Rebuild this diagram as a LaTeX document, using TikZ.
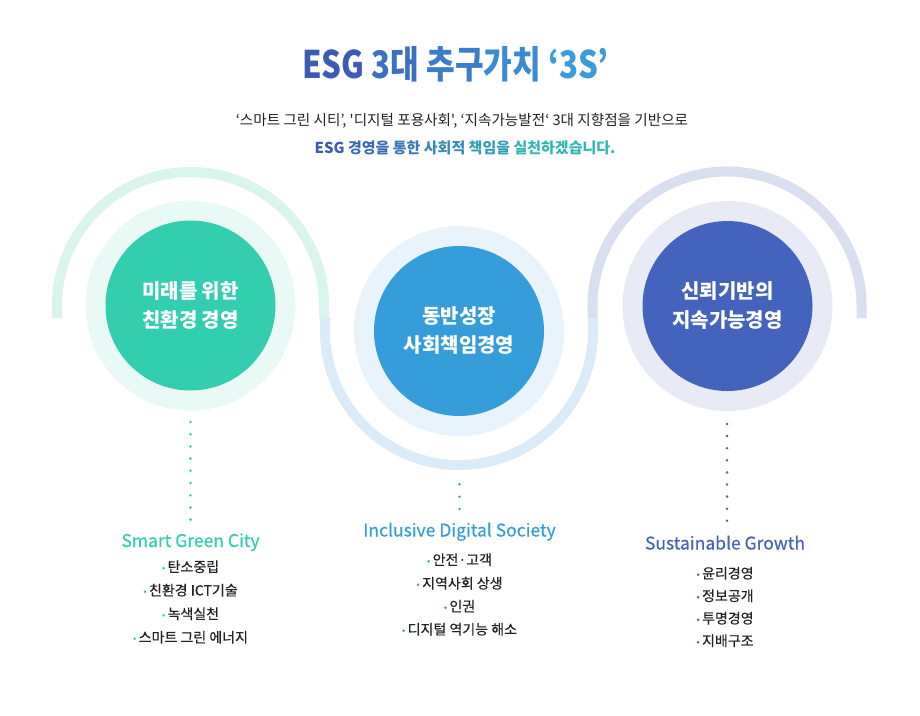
\documentclass[tikz,border=0pt]{standalone}
\usepackage{fontspec}
\setmainfont{Noto Sans CJK KR}
\newfontfamily\titlefont{Noto Sans CJK KR}[FakeStretch=0.82]
\newfontfamily\subfont{Noto Sans CJK KR}
\newfontfamily\medfont{Noto Sans CJK KR}[FakeBold=0.4]
\definecolor{gDark}{HTML}{33CDB0}
\definecolor{gRing}{HTML}{E9F9F5}
\definecolor{gArc}{HTML}{DAF4EE}
\definecolor{bDark}{HTML}{359DD9}
\definecolor{bRing}{HTML}{E8F3FB}
\definecolor{bArc}{HTML}{DBEBF8}
\definecolor{pDark}{HTML}{4463BC}
\definecolor{pRing}{HTML}{E8EBF6}
\definecolor{pArc}{HTML}{D9DFEE}
\definecolor{txt}{HTML}{222222}
\definecolor{tA}{HTML}{3D5BB5}
\definecolor{tB}{HTML}{3AA0DC}
\definecolor{sB}{HTML}{2FC6B3}
\tikzset{
  ring/.style={circle, inner sep=0pt, minimum size=210pt},
  core/.style={circle, inner sep=0pt, minimum size=170pt, text=white, align=center,
    font=\bfseries\fontsize{20}{29}\selectfont},
  arcline/.style={line width=10pt, line cap=butt},
  dotline/.style={line width=2.8pt, line cap=round, dash pattern=on 0pt off #1},
  head/.style={font=\medfont\fontsize{17.5}{20}\selectfont, anchor=base},
  item/.style={font=\medfont\fontsize{14}{16}\selectfont, text=txt, anchor=base},
}
\newcommand{\bul}[1]{{\color{#1}\fontsize{10}{10}\selectfont\raisebox{0.15ex}{•}}\,}
\begin{document}
\begin{tikzpicture}[x=1pt,y=-1pt]
\useasboundingbox[fill=white] (0,0) rectangle (920,715);

% title
\node[anchor=base, font=\titlefont\bfseries\fontsize{38}{42}\selectfont] (title) at (455,78)
  {{\color{tA}ESG} {\color{tB!30!tA}3대} {\color{tB!50!tA}추구}{\color{tB!70!tA}가치} {\color{tB!95!tA}‘3S’}};
\node[anchor=base, font=\subfont\fontsize{14.6}{16}\selectfont, text=txt] (sub1) at (462,125)
  {‘스마트 그린 시티’, '디지털 포용사회', ‘지속가능발전‘ 3대 지향점을 기반으로};
\node[anchor=base, font=\bfseries\fontsize{15}{17}\selectfont] (sub2) at (465,153)
  {{\color{tA}ESG} {\color{sB!15!tA}경영을} {\color{sB!30!tA}통한} {\color{sB!45!tA}사회적} {\color{sB!62!tA}책임을} {\color{sB!85!tA}실천하겠습니다.}};

% outer arcs
\draw[arcline, gArc] (57,318) -- (57,305.5) arc[start angle=180, end angle=360, radius=133.5] -- (324,318);
\draw[arcline, bArc] (325,318) -- (325,331) arc[start angle=180, end angle=0, radius=134] -- (593,318);
\draw[arcline, pArc] (592.5,318) -- (592.5,306) arc[start angle=180, end angle=360, radius=134.5] -- (861.5,318);

% circles
\node[ring, fill=gRing] (r1) at (190.5,305.5) {};
\node[core, fill=gDark] (c1) at (190.5,305.5) {미래를 위한\\친환경 경영};
\node[ring, fill=bRing] (r2) at (459,331) {};
\node[core, fill=bDark] (c2) at (459,331) {동반성장\\사회책임경영};
\node[ring, fill=pRing] (r3) at (727.5,306) {};
\node[core, fill=pDark] (c3) at (727.5,306) {신뢰기반의\\지속가능경영};

% dotted connectors
\coordinate (d1a) at (190.5,422); \coordinate (d1b) at (190.5,520);
\coordinate (d2a) at (459.5,484.3); \coordinate (d2b) at (459.5,509);
\coordinate (d3a) at (727,424); \coordinate (d3b) at (727,521);
\draw[dotline=12.2pt, gDark] (d1a) -- (d1b);
\draw[dotline=12.35pt, bDark] (d2a) -- (d2b);
\draw[dotline=12.1pt, pDark] (d3a) -- (d3b);

% column 1
\node[head, text=gDark] (h1) at (190.5,547) {Smart Green City};
\node[item] (i11) at (190.5,572) {\bul{gDark}탄소중립};
\node[item] (i12) at (190.5,595.5) {\bul{gDark}친환경 ICT기술};
\node[item] (i13) at (190.5,619) {\bul{gDark}녹색실천};
\node[item] (i14) at (190.5,642.5) {\bul{gDark}스마트 그린 에너지};

% column 2
\node[head, text=bDark] (h2) at (459.5,536.5) {Inclusive Digital Society};
\node[item] (i21) at (459.5,565) {\bul{bDark}안전·고객};
\node[item] (i22) at (459.5,588.5) {\bul{bDark}지역사회 상생};
\node[item] (i23) at (459.5,611.5) {\bul{bDark}인권};
\node[item] (i24) at (459.5,634.5) {\bul{bDark}디지털 역기능 해소};

% column 3
\node[head, text=pDark] (h3) at (725,549.5) {Sustainable Growth};
\node[item] (i31) at (725,578.5) {\bul{pDark}윤리경영};
\node[item] (i32) at (725,601) {\bul{pDark}정보공개};
\node[item] (i33) at (725,623.5) {\bul{pDark}투명경영};
\node[item] (i34) at (725,646) {\bul{pDark}지배구조};
\end{tikzpicture}
\end{document}
